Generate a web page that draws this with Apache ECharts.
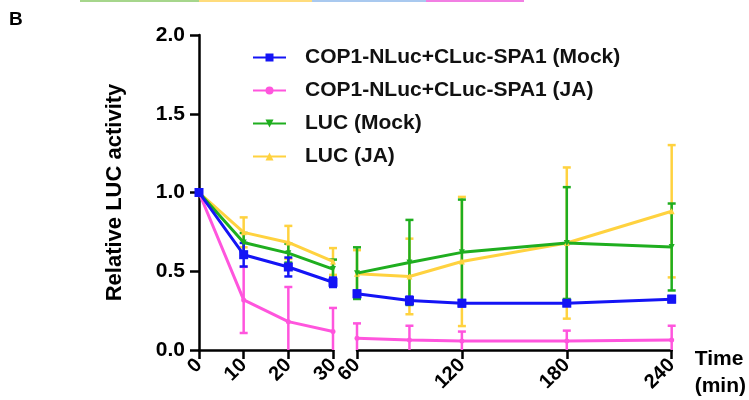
<!DOCTYPE html>
<html>
<head>
<meta charset="utf-8">
<script src="https://cdn.jsdelivr.net/npm/echarts@6/dist/echarts.min.js"></script>
<style>
  html, body { margin: 0; padding: 0; background: #fff; }
  #chart { width: 749px; height: 400px; }
</style>
</head>
<body>
<div id="chart"></div>
<script>
// time points (min), split by the axis break
var timesEarly = [0, 10, 20, 30];
var timesLate = [60, 90, 120, 180, 240];

// COP1-NLuc+CLuc-SPA1 (Mock)
var copMockEarly = [1.0, 0.605, 0.527, 0.43];
var copMockEarlyErr = [0, 0.075, 0.06, 0.03];
var copMockLate = [0.357, 0.314, 0.297, 0.297, 0.323];
var copMockLateErr = [0.02, 0.025, 0.02, 0.015, 0.02];

// COP1-NLuc+CLuc-SPA1 (JA)
var copJaEarly = [1.0, 0.318, 0.18, 0.117];
var copJaEarlyErr = [0, 0.21, 0.22, 0.15];
var copJaLate = [0.074, 0.064, 0.057, 0.057, 0.064];
var copJaLateErr = [0.095, 0.09, 0.06, 0.066, 0.09];

// LUC (Mock)
var lucMockEarly = [1.0, 0.683, 0.615, 0.514];
var lucMockEarlyErr = [0, 0.06, 0.06, 0.06];
var lucMockLate = [0.488, 0.556, 0.62, 0.679, 0.654];
var lucMockLateErr = [0.164, 0.27, 0.335, 0.355, 0.276];

// LUC (JA)
var lucJaEarly = [1.0, 0.747, 0.683, 0.562];
var lucJaEarlyErr = [0, 0.095, 0.105, 0.085];
var lucJaLate = [0.484, 0.467, 0.562, 0.679, 0.881];
var lucJaLateErr = [0.15, 0.24, 0.41, 0.48, 0.42];

var yTicks = [0, 0.5, 1.0, 1.5, 2.0];

var FONT = 'Arial, "Liberation Sans", sans-serif';
var names = ['COP1-NLuc+CLuc-SPA1 (Mock)', 'COP1-NLuc+CLuc-SPA1 (JA)', 'LUC (Mock)', 'LUC (JA)'];
var colors = ['#1414f5', '#ff55dd', '#1fae1f', '#ffd23f'];

function zip(xs, ys) {
  return xs.map(function (x, i) { return [x, ys[i]]; });
}
function zipErr(xs, ys, es) {
  return xs.map(function (x, i) { return [x, ys[i], es[i]]; });
}

function errorRender(color) {
  return function (params, api) {
    var x = api.value(0), m = api.value(1), e = api.value(2);
    if (!e) return null;
    var lo = Math.max(0, m - e);
    var top = api.coord([x, m + e]);
    var bot = api.coord([x, lo]);
    var hw = 4;
    var st = { stroke: color, lineWidth: 2.5 };
    var kids = [
      { type: 'line', shape: { x1: top[0], y1: top[1], x2: bot[0], y2: bot[1] }, style: st },
      { type: 'line', shape: { x1: top[0] - hw, y1: top[1], x2: top[0] + hw, y2: top[1] }, style: st }
    ];
    if (m - e > 0) {
      kids.push({ type: 'line', shape: { x1: bot[0] - hw, y1: bot[1], x2: bot[0] + hw, y2: bot[1] }, style: st });
    }
    return { type: 'group', children: kids };
  };
}

var symbols = ['rect', 'circle', 'triangle', 'triangle'];
var symbolSizes = [9, 5, 6, 6];
var symbolRot = [0, 0, 180, 0];

var early = [copMockEarly, copJaEarly, lucMockEarly, lucJaEarly];
var earlyErr = [copMockEarlyErr, copJaEarlyErr, lucMockEarlyErr, lucJaEarlyErr];
var late = [copMockLate, copJaLate, lucMockLate, lucJaLate];
var lateErr = [copMockLateErr, copJaLateErr, lucMockLateErr, lucJaLateErr];

// draw order: yellow, pink, green, blue on top
var order = [3, 1, 2, 0];
var series = [];
order.forEach(function (k) {
  [[0, timesEarly, early[k], earlyErr[k]], [1, timesLate, late[k], lateErr[k]]].forEach(function (seg) {
    series.push({
      name: 'err' + k + '_' + seg[0],
      type: 'custom',
      xAxisIndex: seg[0],
      yAxisIndex: seg[0],
      renderItem: errorRender(colors[k]),
      encode: { x: 0, y: 1 },
      data: zipErr(seg[1], seg[2], seg[3]),
      z: 2
    });
    series.push({
      name: names[k],
      type: 'line',
      xAxisIndex: seg[0],
      yAxisIndex: seg[0],
      data: zip(seg[1], seg[2]),
      symbol: symbols[k],
      symbolSize: symbolSizes[k],
      symbolRotate: symbolRot[k],
      showAllSymbol: true,
      lineStyle: { color: colors[k], width: 3 },
      itemStyle: { color: colors[k] },
      z: 3
    });
  });
});

var axisLineStyle = { show: true, lineStyle: { color: '#000', width: 2.5 } };
var axisTickStyle = { show: true, length: 9, lineStyle: { color: '#000', width: 2.5 } };
var xLabel = { rotate: 45, fontSize: 20, fontWeight: 'bold', color: '#000', fontFamily: FONT, margin: 12 };

var myChart = echarts.init(document.getElementById('chart'));
var option = {
  animation: false,
  backgroundColor: '#fff',
  grid: [
    { left: 199, top: 35, width: 134, height: 315 },
    { left: 357, top: 35, width: 315, height: 315 }
  ],
  legend: {
    data: names,
    orient: 'vertical',
    left: 247,
    top: 42,
    itemWidth: 33,
    itemHeight: 10,
    itemGap: 12,
    textStyle: { fontSize: 21, fontWeight: 'bold', color: '#111', fontFamily: FONT, padding: [0, 0, 0, 14] }
  },
  xAxis: [
    {
      type: 'value', gridIndex: 0, min: 0, max: 30, interval: 10,
      axisLine: axisLineStyle, axisTick: axisTickStyle, splitLine: { show: false },
      axisLabel: xLabel
    },
    {
      type: 'value', gridIndex: 1, min: 60, max: 240, interval: 60,
      axisLine: axisLineStyle, axisTick: axisTickStyle, splitLine: { show: false },
      axisLabel: xLabel,
      name: 'Time\n(min)', nameLocation: 'end', nameGap: 23,
      nameTextStyle: { fontSize: 21, fontWeight: 'bold', color: '#000', fontFamily: FONT,
        align: 'left', verticalAlign: 'top', lineHeight: 27, padding: [-4, 0, 0, 0] }
    }
  ],
  yAxis: [
    {
      type: 'value', gridIndex: 0, min: yTicks[0], max: yTicks[yTicks.length - 1], interval: 0.5,
      axisLine: axisLineStyle, axisTick: axisTickStyle, splitLine: { show: false },
      axisLabel: { fontSize: 21, fontWeight: 'bold', color: '#000', fontFamily: FONT, margin: 14,
        formatter: function (v) { return v.toFixed(1); } },
      name: 'Relative LUC activity', nameLocation: 'middle', nameGap: 73,
      nameTextStyle: { fontSize: 22, fontWeight: 'bold', color: '#000', fontFamily: FONT }
    },
    {
      type: 'value', gridIndex: 1, min: yTicks[0], max: yTicks[yTicks.length - 1], interval: 0.5,
      show: false
    }
  ],
  graphic: [
    { type: 'text', left: 9, top: 10, style: { text: 'B', font: 'bold 19px ' + FONT, fill: '#000' } },
    { type: 'rect', shape: { x: 80, y: 0, width: 119, height: 2 }, style: { fill: '#a6d68c' } },
    { type: 'rect', shape: { x: 199, y: 0, width: 113, height: 2 }, style: { fill: '#ffdc7c' } },
    { type: 'rect', shape: { x: 312, y: 0, width: 114, height: 2 }, style: { fill: '#a9c9ef' } },
    { type: 'rect', shape: { x: 426, y: 0, width: 98, height: 2 }, style: { fill: '#f27fe3' } }
  ],
  series: series
};
myChart.setOption(option);
</script>
</body>
</html>
